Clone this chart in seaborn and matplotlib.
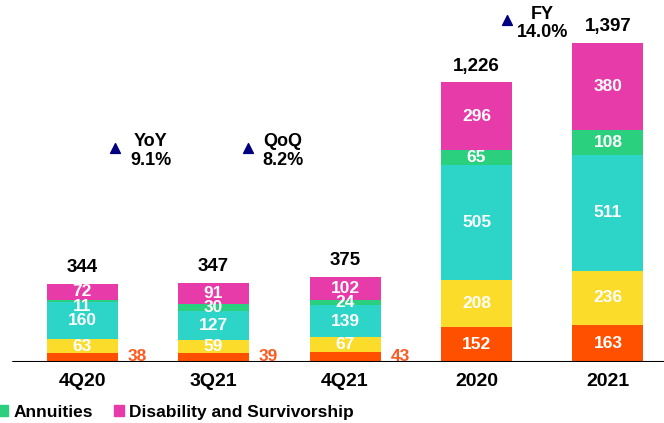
import numpy as np
import pandas as pd
import matplotlib
matplotlib.use("Agg")
import matplotlib.pyplot as plt
import seaborn as sns
from matplotlib.patches import Patch

sns.set_style("white")
plt.rcParams['font.family'] = ['Liberation Sans', 'DejaVu Sans']
plt.rcParams['font.weight'] = 'bold'
plt.rcParams['text.color'] = 'black'
plt.rcParams['xtick.color'] = 'black'

periods = ['4Q20', '3Q21', '4Q21', '2020', '2021']
seg_names = ['Other', 'Group', 'Life', 'Annuities', 'Disability and Survivorship']
seg_colors = ['#FF5000', '#FCDC2A', '#2DD4C8', '#2AD07E', '#E83BAA']
other = [38, 39, 43, 152, 163]
group = [63, 59, 67, 208, 236]
life = [160, 127, 139, 505, 511]
annuities = [11, 30, 24, 65, 108]
disability = [72, 91, 102, 296, 380]
totals = ['344', '347', '375', '1,226', '1,397']
outside_first = [True, True, True, False, False]

growth_labels = ['YoY', 'QoQ', 'FY']
growth_values = ['9.1%', '8.2%', '14.0%']

segs = [other, group, life, annuities, disability]
df = pd.DataFrame({'period': periods})
for name, vals in zip(seg_names, segs):
    df[name] = vals
cum = df[seg_names].cumsum(axis=1)

fig = plt.figure(figsize=(6.64, 4.23), dpi=100)
ax = fig.add_axes([0, 61 / 423, 1, 362 / 423])

# stacked bars: draw cumulative sums from the top down
for name, col in reversed(list(zip(seg_names, seg_colors))):
    sns.barplot(x=df['period'], y=cum[name], color=col, width=0.54,
                saturation=1, linewidth=0, ax=ax, order=periods)

for i in range(len(periods)):
    bottom = 0
    for j, vals in enumerate(segs):
        v = vals[i]
        if j == 0 and outside_first[i]:
            ax.text(i + 0.42, 25, str(v), color='#FF5A1F', fontsize=12.5,
                    fontweight='bold', ha='center', va='center')
        else:
            y = bottom + v / 2
            if v < 20:
                y -= 22  # tiny segment, nudge label down a bit
            ax.text(i, y, str(v), color='white', fontsize=12.5,
                    fontweight='bold', ha='center', va='center')
        bottom += v
    ax.annotate(totals[i], (i, bottom), xytext=(0, 8.5), textcoords='offset points',
                ha='center', va='baseline', fontsize=13.5, fontweight='bold')

# growth annotations: triangle x, label x, value x, label y, value y
ann_pos = [(0.25, 0.39, 0.365, 965, 885),
           (1.26, 1.38, 1.37, 965, 885),
           (3.23, 3.41, 3.31, 1525, 1445)]
for (tx, lx, vx, ly, vy), lab, val in zip(ann_pos, growth_labels, growth_values):
    ax.scatter([tx], [ly - 25], marker='^', s=50, color='#000080', zorder=5)
    ax.text(lx, ly, lab, fontsize=13, fontweight='bold', ha='left', va='center')
    ax.text(vx, vy, val, fontsize=13, fontweight='bold', ha='left', va='center')

ax.set_xlim(-0.624, 4.426)
ax.set_ylim(0, 362 / 0.228)
ax.axhline(0, xmin=13 / 664, xmax=1, color='black', lw=1.5, zorder=6)
ax.set_xlabel('')
ax.set_ylabel('')
ax.set_yticks([])
ax.tick_params(axis='x', length=0, pad=8, labelsize=14)
for t in ax.get_xticklabels():
    t.set_fontweight('bold')
sns.despine(ax=ax, left=True, bottom=True)

handles = [Patch(color=seg_colors[3]), Patch(color=seg_colors[4])]
fig.legend(handles, ['Annuities', 'Disability and Survivorship'], loc='center left',
           bbox_to_anchor=(-0.027, 11 / 423), ncol=2, frameon=False,
           handlelength=0.6, handleheight=0.6, handletextpad=0.3, columnspacing=1.2,
           prop={'weight': 'bold', 'size': 12.5})

fig.savefig('out.png', dpi=100)
